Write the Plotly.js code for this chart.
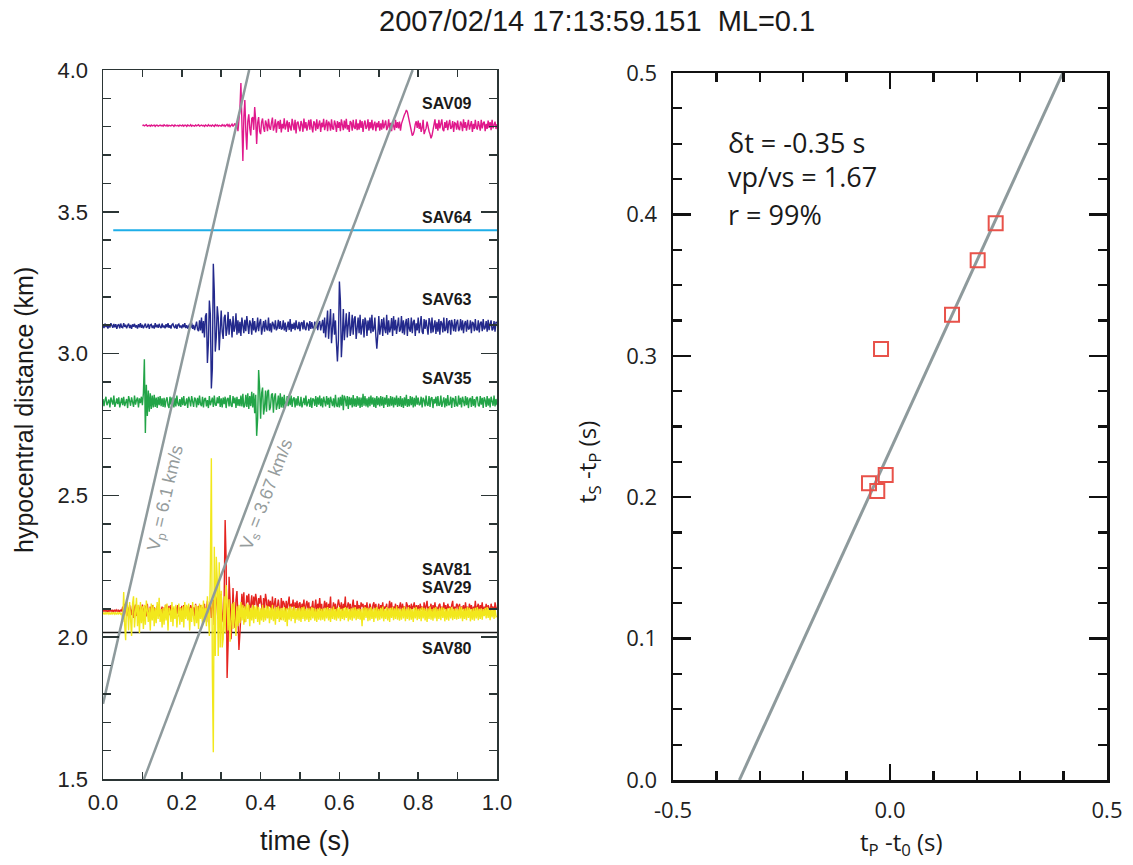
<!DOCTYPE html>
<html><head><meta charset="utf-8">
<script src="https://cdn.plot.ly/plotly-3.0.1.min.js"></script>
<style>html,body{margin:0;padding:0;background:#fff}#chart{width:1133px;height:865px}</style>
</head><body><div id="chart"></div>
<script>
// ================= DATA =================
const chartTitle = '2007/02/14 17:13:59.151\u00A0\u00A0ML=0.1';
const sampleDt = 0.0025; // seismogram sampling interval (s)

// Waveform amplitudes: offsets in metres on the distance axis (one row = 0.05 s)
const sav09Start = 0.10, sav09Dist = 3.804;
const sav09Amp = [
  0,2,-1,1,3,-2,0,1,-2,2,-1,0,2,-3,1,1,-2,0,2,-1,
  1,-2,3,0,-1,2,-2,1,0,-1,2,1,-3,2,0,-1,1,-2,2,0,
  -1,2,-2,1,1,-3,2,0,-1,3,-2,1,0,-2,2,-1,1,3,-2,0,
  2,-1,1,-3,2,0,-2,3,-1,1,-2,2,0,-3,3,-1,2,-2,1,0,
  -2,3,-1,2,-3,1,4,-2,3,-4,2,5,-3,4,8,-6,12,-20,25,60,
  150,-40,-125,30,90,-20,-85,15,40,-10,-35,25,30,-15,65,20,-65,10,30,-20,
  -30,12,25,-8,-22,18,5,-20,24,-6,-15,10,28,-18,-4,22,-25,8,16,-12,
  20,-24,6,-10,26,-14,3,18,-22,12,-5,-18,24,8,-16,20,-28,10,14,-8,
  -20,16,4,-22,25,-10,12,-18,-3,20,-14,22,-6,-24,15,8,-18,22,-12,5,
  18,-22,10,-6,24,-16,-2,20,-20,14,6,-18,22,-10,-14,18,4,-22,16,-8,
  12,-20,22,-4,-16,18,-10,24,-14,2,-22,16,10,-18,20,-6,-12,22,-16,8,
  -14,20,-8,16,-22,6,18,-12,-4,22,-18,12,-10,20,-16,4,14,-20,10,-6,
  16,-18,8,-14,20,-10,4,18,-16,-6,22,-12,10,-20,14,-4,-16,20,-8,12,
  -10,14,-18,6,20,25,38,45,55,48,30,12,-10,-25,-35,-30,-18,5,15,-8,
  18,-12,10,-22,-8,20,-30,-18,-10,14,-6,-20,-30,-45,-35,-15,10,22,-12,8,
  -18,20,-10,6,22,-14,-20,12,-8,18,-16,4,20,-12,-6,16,-22,10,8,-14,
  18,-10,-16,14,6,-20,22,-8,12,-18,-4,20,-14,10,16,-22,6,-12,20,-6,
  -14,16,-4,-18,20,-10,8,14,-20,6,-12,18,-8,12,-16,20,-10,4,14,-12,
  5];

const sav63Start = 0.0, sav63Dist = 3.097;
const sav63Amp = [
  4,-7,9,-3,2,-9,6,-5,10,-2,-6,8,-4,7,-10,3,5,-8,9,-4,
  -6,10,-3,5,-8,2,9,-7,4,-10,6,-2,8,-5,3,-9,7,-4,10,-6,
  5,-8,3,9,-6,-2,8,-10,4,6,-7,2,-9,10,-4,5,-6,8,-3,-7,
  9,-5,2,-8,7,-4,10,-6,3,-9,5,8,-2,-7,6,-10,4,7,-5,2,
  -8,6,-4,10,-7,3,-9,5,8,-6,12,-10,4,-14,9,16,-12,-18,20,-15,
  30,-25,18,-40,35,45,-130,-60,90,40,-220,-150,220,120,-90,-40,70,30,-85,-30,
  55,-20,-45,30,40,-35,-10,50,-30,25,10,-40,35,-20,-5,45,-30,20,-25,15,
  -35,30,10,-25,22,-18,35,-12,-28,20,8,-30,28,-15,18,-22,-8,30,-18,12,
  25,-30,6,18,-20,22,-8,-15,30,-18,10,-22,15,6,-12,20,-15,-6,22,-10,
  18,-12,-8,20,-15,12,-20,4,16,-14,25,-20,8,-10,12,-14,20,-6,-10,15,
  -18,10,14,-12,20,-8,-14,12,6,-16,18,-10,14,-6,-12,16,-8,18,-14,10,
  18,-15,10,22,-25,30,-40,15,55,-45,20,60,-60,-20,45,-30,20,-60,-125,-50,
  157,90,-110,-40,60,-50,20,45,-40,30,50,-35,-10,40,-30,25,35,-45,10,30,
  -25,40,-30,-5,25,-40,30,15,-35,20,-15,30,-25,40,-20,-10,30,-35,-80,-30,
  35,-30,10,25,-35,30,-10,-25,40,-30,20,-22,-8,28,-35,35,-15,22,-28,10,
  30,-20,-12,35,-25,20,-30,8,25,-35,28,-10,-20,30,-25,15,22,-35,10,-15,
  30,-25,12,35,-20,-28,25,-10,22,-18,-30,28,12,-25,30,-22,-5,20,-28,15,
  -20,25,-30,18,10,-22,30,-18,-12,28,-25,15,20,-30,22,-8,-18,25,-20,12,
  22,-18,-10,25,-15,20,-25,8,18,-20,22,-12,-8,20,-25,15,10,-18,25,-12,
  -15,20,-22,10,16,-18,25,-12,-6,18,-20,22,-14,8,20,-15,-10,18,-20,15,
  10];

const sav35Start = 0.0, sav35Dist = 2.830;
const sav35Amp = [
  10,-15,5,18,-12,-4,8,-20,15,3,-10,22,-18,-5,12,-8,16,-20,6,14,
  -12,18,-15,-3,10,-22,20,4,-14,16,-8,-18,22,-10,6,15,-20,12,-5,18,
  -12,30,150,-110,60,-50,40,-35,30,-25,22,-20,25,-18,15,-22,18,-12,20,-15,
  12,-18,14,-20,6,16,-12,-22,18,-10,15,8,-20,14,-16,22,-6,-15,10,-18,
  16,-12,20,-14,-6,12,-22,18,4,-16,20,-10,-18,15,8,-20,14,-12,22,-8,
  -15,18,-20,10,14,-16,6,-22,20,-12,8,15,-18,22,-10,-14,16,-6,20,-18,
  12,-20,15,-8,18,-22,10,14,-16,24,-12,-18,20,-6,15,-22,18,-14,10,-15,
  22,-16,28,-20,-12,25,-18,30,-25,20,-15,35,-20,30,-40,25,-120,-60,112,50,
  -60,30,50,-45,-20,40,-35,35,42,-30,-20,25,30,-38,15,30,-28,-10,22,-25,
  30,-20,18,-22,25,-16,-8,20,-15,18,-12,22,-18,10,16,-20,12,-14,20,-10,
  -15,18,-20,6,14,-12,22,-16,-4,10,-18,15,-22,12,8,-14,20,-18,16,-10,
  22,-15,12,-20,18,-6,-16,20,-10,14,-22,18,6,-15,12,-20,25,-12,-18,15,
  -20,18,-14,25,-30,22,10,-15,20,-25,18,-12,15,-20,24,-16,12,-18,20,-14,
  16,-22,15,-18,28,-14,20,-16,12,-20,18,-15,22,-10,16,-18,14,-22,20,-12,
  15,-16,20,-14,18,-22,15,-10,24,-18,12,-16,20,-14,18,-20,15,-12,22,-18,
  14,-15,20,-18,12,-22,16,-14,25,-18,10,-16,20,-12,18,-20,14,-16,22,-10,
  15,-12,-8,18,-20,14,6,-16,22,-10,-14,20,-18,12,16,-22,10,-6,18,-15,
  20,-14,-10,22,-18,8,16,-20,12,-15,24,-12,-8,18,-22,14,10,-18,20,-12,
  -16,22,-10,14,-20,18,-6,-15,20,-12,16,-22,8,14,-18,20,-14,10,-20,15,
  18,-12,-16,20,-10,14,-22,16,6,-18,20,-14,12,-20,18,-8,-14,22,-16,10,
  -12];

const sav29Start = 0.0, sav29Dist = 2.093;
const sav29Amp = [
  3,-2,4,-3,2,-4,3,-2,4,-3,2,-3,4,-2,3,-4,2,-3,4,-2,
  15,-20,25,5,-18,12,-22,20,-5,-15,18,-25,10,22,-18,-8,20,-12,15,-20,
  22,-15,8,18,-20,25,-12,-5,15,-18,20,-22,12,4,-15,18,-10,22,-20,6,
  15,-18,12,-20,22,-8,-12,18,-15,20,-22,10,5,-18,15,-12,20,-20,12,-8,
  18,-15,20,-6,-12,16,-22,14,-18,20,8,-15,12,-20,25,-10,-15,18,-12,20,
  -15,12,-20,25,-30,10,35,-40,20,30,-25,15,40,-50,-20,35,50,-30,45,-40,
  60,-20,-40,50,320,180,-237,-120,120,40,-100,-30,80,-20,-60,40,70,-20,-138,-80,
  30,60,10,65,-40,20,55,30,60,-10,40,55,-20,50,20,60,35,-15,45,25,
  55,15,-15,45,10,60,35,-25,40,15,35,-20,50,5,30,45,-10,25,40,10,
  -30,45,10,35,25,-15,35,5,30,50,-10,25,15,40,-20,30,10,35,-15,25,
  30,-15,25,10,40,-20,20,35,5,30,-25,15,10,35,-15,20,40,-10,25,5,
  45,0,25,-20,20,35,5,30,-15,25,10,50,-20,15,30,5,25,-10,20,40,
  20,5,30,-15,25,10,50,-20,15,30,5,25,-10,20,40,0,20,-15,35,5,
  20,-10,30,15,25,-15,20,5,30,-10,15,25,10,-20,20,30,0,25,-10,15,
  25,-15,20,5,30,-10,15,10,25,-20,20,35,0,30,-10,15,5,25,-15,20,
  0,20,30,-10,25,5,15,-15,30,20,0,20,-10,25,5,15,30,-15,20,0,
  20,-10,25,5,15,-15,30,0,20,35,-10,15,5,25,-15,20,0,30,-5,15,
  -10,20,25,0,15,-10,30,5,20,-15,25,10,15,-5,20,35,-10,15,0,25,
  20,0,25,-10,15,5,20,-15,30,0,15,-10,25,5,20,-10,15,0,35,-5,
  15,25,-10,20,5,30,-15,15,0,25,-5,20,10,-10,25,5,15,-15,30,10,
  10];

const sav81Start = 0.0, sav81Dist = 2.084;
const sav81Amp = [
  -3,2,-4,3,-2,4,-3,2,-4,3,-2,4,-3,2,-4,3,-2,4,-3,2,
  -30,75,-40,-95,50,20,-60,40,-20,-80,35,60,-50,-10,55,-45,30,-70,40,-35,
  25,-55,30,-40,45,10,-30,20,-60,35,-25,30,-45,20,-35,40,-20,55,-30,15,
  -50,20,-40,30,-25,35,-60,20,10,-30,40,-45,25,-20,30,-50,15,35,-40,20,
  -30,25,-50,40,-20,30,-25,35,-60,20,-30,40,-15,-45,30,-35,25,-55,35,-20,
  30,-40,45,-30,20,-45,60,-50,-80,150,547,-200,-490,235,-150,200,120,-150,180,-120,
  80,-120,-90,60,-70,100,45,-60,50,-100,-40,35,-55,40,-30,-80,25,-45,30,-35,
  40,-25,30,-40,25,-30,35,-20,30,-45,20,-25,30,-35,25,-20,28,-30,22,-40,
  18,-25,30,-30,20,-25,28,-18,25,-35,20,-22,30,-28,18,-40,22,-20,25,-30,
  18,-24,20,-25,22,-30,18,-45,20,-22,25,-28,18,-20,24,-35,16,-22,20,-26,
  18,-30,22,-20,24,-28,16,-22,20,-30,18,-24,22,-18,20,-26,15,-30,18,-22,
  20,-25,16,-22,18,-28,20,-18,22,-25,16,-30,18,-20,24,-22,15,-26,20,-18,
  22,-28,16,-20,18,-24,22,-16,20,-28,15,-22,18,-26,20,-18,22,-24,16,-20,
  18,-22,15,-45,20,-24,22,-16,20,-28,18,-25,22,-20,16,-30,20,-18,22,-26,
  16,-22,20,-18,24,-28,15,-20,22,-25,18,-30,20,-16,22,-24,18,-20,25,-22,
  18,-26,15,-22,20,-18,24,-28,16,-20,22,-25,18,-22,15,-30,20,-18,22,-24,
  16,-20,18,-28,22,-18,20,-25,16,-30,18,-20,24,-22,15,-26,20,-18,22,-28,
  16,-20,18,-24,22,-16,20,-28,15,-22,18,-26,20,-18,22,-24,16,-20,18,-22,
  15,-20,24,-18,22,-28,16,-20,18,-24,22,-16,20,-28,15,-22,18,-26,20,-18,
  22,-24,16,-20,18,-22,15,-10,20,-18,22,-16,18,-24,20,-14,16,-20,18,-12,
  -10];

// flat (dead) channels
const sav64Time = [0.026, 1.0], sav64DistLine = [3.435, 3.435];
const sav80Time = [0.0, 1.0],   sav80DistLine = [2.017, 2.017];

// moveout lines
const vpTime = [0.0, 0.371], vpDist = [1.765, 4.0];
const vsTime = [0.104, 0.786], vsDist = [1.5, 4.0];

// Wadati diagram
const tpMinusT0 = [0.2435, 0.202, 0.1429, -0.0207, -0.0099, -0.0484, -0.0293];
const tsMinusTp = [0.3937, 0.3675, 0.329, 0.3048, 0.2157, 0.2098, 0.2044];
const fitX = [-0.347, 0.398], fitY = [0.0, 0.5];
const fitStats = ['\u03B4t = -0.35 s', 'vp/vs = 1.67', 'r = 99%'];

const stationNames = ['SAV09','SAV64','SAV63','SAV35','SAV81','SAV29','SAV80'];

const timeTickVals = [0, 0.2, 0.4, 0.6, 0.8, 1.0];
const timeTickText = ['0.0','0.2','0.4','0.6','0.8','1.0'];
const distTickVals = [1.5, 2.0, 2.5, 3.0, 3.5, 4.0];
const distTickText = ['1.5','2.0','2.5','3.0','3.5','4.0'];
const tpTickVals = [-0.5, 0.0, 0.5];
const tpTickText = ['-0.5','0.0','0.5'];
const tsTickVals = [0.0, 0.1, 0.2, 0.3, 0.4, 0.5];
const tsTickText = ['0.0','0.1','0.2','0.3','0.4','0.5'];

// ================= BUILD =================
function seis(start, amps, dist) {
  return {
    x: amps.map((a, i) => start + i * sampleDt),
    y: amps.map(a => dist + a / 1000)
  };
}
const W = 1133, H = 865;
const px = v => v / W, py = v => 1 - v / H;

function wave(start, amps, dist, color) {
  const s = seis(start, amps, dist);
  return {x: s.x, y: s.y, xaxis: 'x', yaxis: 'y', mode: 'lines', type: 'scatter',
          line: {color: color, width: 1.4}, hoverinfo: 'skip'};
}

const traces = [
  {x: sav80Time, y: sav80DistLine, mode: 'lines', line: {color: '#1a1a1a', width: 1.5}, xaxis: 'x', yaxis: 'y'},
  {x: sav64Time, y: sav64DistLine, mode: 'lines', line: {color: '#1eaee8', width: 1.8}, xaxis: 'x', yaxis: 'y'},
  wave(sav09Start, sav09Amp, sav09Dist, '#e0198c'),
  wave(sav63Start, sav63Amp, sav63Dist, '#23298c'),
  wave(sav35Start, sav35Amp, sav35Dist, '#22a447'),
  wave(sav29Start, sav29Amp, sav29Dist, '#e5231f'),
  wave(sav81Start, sav81Amp, sav81Dist, '#f2e81c'),
  {x: vpTime, y: vpDist, mode: 'lines', line: {color: '#8e9a9c', width: 2.5}, xaxis: 'x', yaxis: 'y'},
  {x: vsTime, y: vsDist, mode: 'lines', line: {color: '#8e9a9c', width: 2.5}, xaxis: 'x', yaxis: 'y'},
  {x: fitX, y: fitY, mode: 'lines', line: {color: '#8e9a9c', width: 3}, xaxis: 'x2', yaxis: 'y2'},
  {x: tpMinusT0, y: tsMinusTp, mode: 'markers', xaxis: 'x2', yaxis: 'y2',
   marker: {symbol: 'square-open', size: 14, color: '#e8524a', line: {width: 2, color: '#e8524a'}}}
];

const leftFont = 'Liberation Sans, Arial, sans-serif';
const rightFont = 'Open Sans, Noto Sans, sans-serif';

function leftAxis(extra) {
  return Object.assign({
    showline: true, linecolor: '#2b3535', linewidth: 1.5, mirror: 'allticks',
    ticks: 'inside', tickcolor: '#2b3535', tickwidth: 1.5,
    showgrid: false, zeroline: false, tickmode: 'array',
    tickfont: {family: leftFont, size: 22, color: '#222'}
  }, extra);
}
function rightAxis(extra) {
  return Object.assign({
    showline: true, linecolor: '#111', linewidth: 2.5, mirror: 'allticks',
    ticks: 'inside', tickcolor: '#111', tickwidth: 2.5,
    showgrid: false, zeroline: false, tickmode: 'array',
    tickfont: {family: rightFont, size: 22, color: '#222'}
  }, extra);
}

function note(xp, yp, text, font, extra) {
  return Object.assign({xref: 'paper', yref: 'paper', x: px(xp), y: py(yp), text: text,
    showarrow: false, xanchor: 'center', yanchor: 'middle', font: font}, extra || {});
}

const stationLabelY = [104, 217.5, 299, 379, 569.5, 587, 648.5];
const annotations = [];
annotations.push(note(597, 21, chartTitle, {family: leftFont, size: 29, color: '#1a1a1a'}));
stationNames.forEach((n, i) => annotations.push(note(474, stationLabelY[i], '<b>' + n + '</b>',
  {family: leftFont, size: 16, color: '#1a1a1a'}, {xanchor: 'right'})));
annotations.push(note(166, 498, 'V<sub>p</sub> = 6.1 km/s', {family: leftFont, size: 18, color: '#959c9c'}, {textangle: -77}));
annotations.push(note(267, 495, 'V<sub>s</sub> = 3.67 km/s', {family: leftFont, size: 18, color: '#959c9c'}, {textangle: -69}));
annotations.push(note(305, 841, 'time (s)', {family: leftFont, size: 27, color: '#1a1a1a'}));
annotations.push(note(24, 410, 'hypocentral distance (km)', {family: leftFont, size: 25, color: '#1a1a1a'}, {textangle: -90}));
const statsY = [143, 177, 214];
fitStats.forEach((s, i) => annotations.push(note(726, statsY[i], s,
  {family: rightFont, size: 27, color: '#1a1a1a'}, {xanchor: 'left'})));
annotations.push(note(901, 843, 't<sub>P</sub> -t<sub>0</sub> (s)', {family: rightFont, size: 24, color: '#1a1a1a'}));
annotations.push(note(588, 462, 't<sub>S</sub> -t<sub>P</sub> (s)', {family: rightFont, size: 24, color: '#1a1a1a'}, {textangle: -90}));

const layout = {
  width: W, height: H, margin: {l: 0, r: 0, t: 0, b: 0},
  paper_bgcolor: '#fff', plot_bgcolor: '#fff', showlegend: false,
  xaxis: leftAxis({domain: [px(103), px(497)], range: [0, 1], anchor: 'y',
    tickvals: timeTickVals, ticktext: timeTickText, ticklen: 7, ticklabelstandoff: 3,
    minor: {tickmode: 'linear', tick0: 0, dtick: 0.1, ticks: 'inside', ticklen: 7, tickwidth: 1.5, tickcolor: '#2b3535'}}),
  yaxis: leftAxis({domain: [py(779), py(70)], range: [1.5, 4.0], anchor: 'x',
    tickvals: distTickVals, ticktext: distTickText, ticklen: 16, ticklabelstandoff: 9,
    minor: {tickmode: 'linear', tick0: 0, dtick: 0.1, ticks: 'inside', ticklen: 8, tickwidth: 1.5, tickcolor: '#2b3535'}}),
  xaxis2: rightAxis({domain: [px(673), px(1107)], range: [-0.5, 0.5], anchor: 'y2',
    tickvals: tpTickVals, ticktext: tpTickText, ticklen: 16, ticklabelstandoff: 9,
    minor: {tickmode: 'linear', tick0: 0, dtick: 0.1, ticks: 'inside', ticklen: 9, tickwidth: 2.2, tickcolor: '#111'}}),
  yaxis2: rightAxis({domain: [py(780), py(73)], range: [0, 0.5], anchor: 'x2',
    tickvals: tsTickVals, ticktext: tsTickText, ticklen: 18, ticklabelstandoff: 9,
    minor: {tickmode: 'linear', tick0: 0, dtick: 0.025, ticks: 'inside', ticklen: 9, tickwidth: 2.2, tickcolor: '#111'}}),
  annotations: annotations
};

Plotly.newPlot('chart', traces, layout, {displayModeBar: false, staticPlot: true});
</script>
</body></html>
